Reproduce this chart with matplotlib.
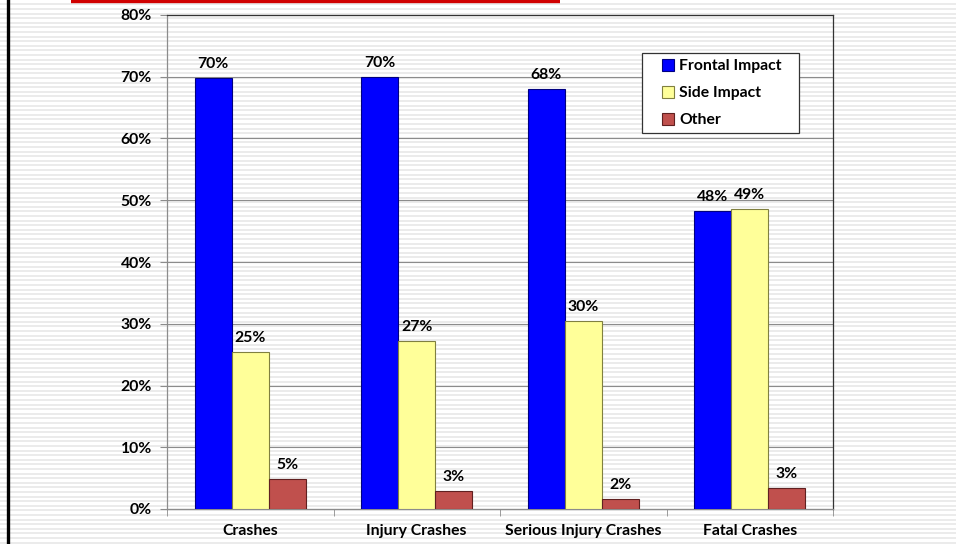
import matplotlib
matplotlib.use("Agg")
import matplotlib.pyplot as plt
import numpy as np
from matplotlib.patches import Rectangle

categories = ["Crashes", "Injury Crashes", "Serious Injury Crashes", "Fatal Crashes"]
frontal = [69.8, 70.0, 68.0, 48.2]
side = [25.4, 27.2, 30.4, 48.6]
other = [4.9, 2.9, 1.7, 3.4]
frontal_labels = ["70%", "70%", "68%", "48%"]
side_labels = ["25%", "27%", "30%", "49%"]
other_labels = ["5%", "3%", "2%", "3%"]
series_names = ["Frontal Impact", "Side Impact", "Other"]
yticks = [0, 10, 20, 30, 40, 50, 60, 70, 80]

plt.rcParams['font.family'] = ['Lato', 'DejaVu Sans']
FW = "bold"
FS = 11.3

W, H = 956, 544
fig = plt.figure(figsize=(W / 100, H / 100), dpi=100)
fig.patch.set_facecolor("white")

# background stripes
bg = fig.add_axes([0, 0, 1, 1], zorder=-1)
bg.set_xlim(0, W)
bg.set_ylim(0, H)
bg.axis("off")
ys = np.arange(1.5, H, 4.6)
bg.hlines(ys, 0, W, colors="#e8e8e8", linewidth=1.2)
bg.axvline(8.5, color="black", linewidth=2.4)
bg.add_patch(Rectangle((71, H - 4), 489, 4, color="#d00000", linewidth=0))

ax = fig.add_axes([167 / W, 1 - 509 / H, (833 - 167) / W, (509 - 15) / H])
ax.patch.set_alpha(0)

x = np.arange(len(categories))
w = 0.222
colors = ["#0000ff", "#ffff99", "#c0504d"]
edges = ["#000080", "#808040", "#602020"]
data = [frontal, side, other]
labels = [frontal_labels, side_labels, other_labels]
for i in range(3):
    pos = x + (i - 1) * w
    bars = ax.bar(pos, data[i], width=w, color=colors[i], edgecolor=edges[i],
                  linewidth=0.8, label=series_names[i], zorder=3)
    for b, lab in zip(bars, labels[i]):
        ax.annotate(lab, (b.get_x() + b.get_width() / 2, b.get_height()),
                    xytext=(0, 5), textcoords="offset points", ha="center",
                    va="bottom", fontsize=FS, fontweight=FW, zorder=4)

ax.set_xlim(-0.5, len(categories) - 0.5)
ax.set_ylim(0, 80)
ax.set_yticks(yticks)
ax.set_yticklabels([f"{v}%" for v in yticks], fontsize=FS, fontweight=FW)
ax.yaxis.grid(True, color="#8c8c8c", linewidth=0.8, zorder=0)
ax.set_axisbelow(True)
ax.set_xticks(x)
ax.set_xticklabels(categories, fontsize=FS, fontweight=FW)
ax.tick_params(axis="x", length=0, pad=11)
ax.set_xticks(np.arange(-0.5, len(categories) + 0.5, 1), minor=True)
ax.tick_params(axis="x", which="minor", length=5, color="#8c8c8c", direction="out")
ax.tick_params(axis="y", length=5, color="#8c8c8c", direction="out", pad=6)
for s in ["left", "bottom"]:
    ax.spines[s].set_color("#8c8c8c")
    ax.spines[s].set_linewidth(0.9)
for s in ["top", "right"]:
    ax.spines[s].set_color("#333333")
    ax.spines[s].set_linewidth(0.9)

# legend frame
frame = Rectangle((642 / W, 1 - 133 / H), (799 - 642) / W, (133 - 53) / H,
                  transform=fig.transFigure, facecolor="white",
                  edgecolor="#333333", linewidth=0.9, zorder=5, clip_on=False)
ax.add_patch(frame)
leg = ax.legend(loc="upper left", bbox_to_anchor=(657 / W, 1 - 54 / H),
                bbox_transform=fig.transFigure, borderaxespad=0,
                prop={"weight": "bold", "size": FS}, frameon=False,
                handlelength=0.8, handleheight=0.8,
                handletextpad=0.3, labelspacing=0.8, borderpad=0.3)
for t in leg.get_texts():
    t.set_fontweight("bold")
leg.set_zorder(6)

fig.savefig("out.png", dpi=100, facecolor="white")
